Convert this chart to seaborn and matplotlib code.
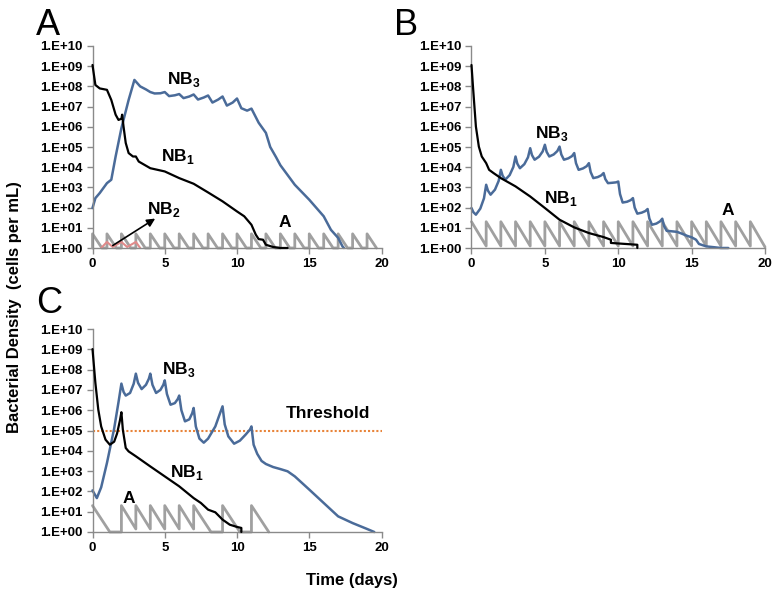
import numpy as np
import pandas as pd
import matplotlib
matplotlib.use("Agg")
import matplotlib.pyplot as plt
import seaborn as sns

# ---------------------------------------------
# DATA  (values are log10 of cells per mL)
# ---------------------------------------------
# Panel A
a_nb1_t = [0, 0.2, 0.5, 1.0, 1.3, 1.6, 1.8, 2.0, 2.05, 2.15, 2.3, 2.5, 2.8, 3.0, 3.2, 4, 5, 6, 7, 8, 9, 10,
           10.5, 11.0, 11.3, 11.5, 11.8, 12.0, 12.5, 13.0, 13.5]
a_nb1_y = [9.06, 8.07, 7.9, 7.83, 7.33, 6.6, 6.34, 6.4, 6.6, 6.0, 5.2, 4.7, 4.53, 4.53, 4.28, 3.95, 3.79, 3.46,
           3.18, 2.75, 2.31, 1.81, 1.57, 1.15, 0.66, 0.44, 0.41, 0.16, 0.05, 0.0, 0.0]
a_nb3_t = [0, 0.2, 0.5, 1.0, 1.3, 1.6, 2.0, 2.5, 2.9, 3.3, 3.7, 4.0, 4.3, 4.7, 5.0, 5.3, 5.7, 6.0, 6.3, 6.7,
           7.0, 7.3, 7.7, 8.0, 8.3, 8.7, 9.0, 9.3, 9.7, 10.0, 10.3, 10.7, 11.0, 11.5, 12.0, 12.3, 12.7, 13,
           14, 15, 16, 16.5, 17, 17.3, 17.4]
a_nb3_y = [1.98, 2.47, 2.72, 3.21, 3.38, 4.53, 5.93, 7.33, 8.32, 8.0, 7.85, 7.72, 7.65, 7.66, 7.72, 7.52, 7.56,
           7.62, 7.42, 7.5, 7.6, 7.35, 7.45, 7.55, 7.2, 7.35, 7.5, 7.05, 7.2, 7.4, 6.92, 6.8, 6.9, 6.2, 5.7,
           5.0, 4.5, 4.1, 3.13, 2.39, 1.57, 0.9, 0.5, 0.08, 0.0]
a_nb2_t = [0.6, 1.0, 1.4, 2.0, 2.4, 3.0, 3.3]
a_nb2_y = [0.0, 0.3, 0.05, 0.3, 0.05, 0.3, 0.0]
a_abx_t = [0, 0, 0.65, 1, 1, 1.65, 2, 2, 2.65, 3, 3, 3.65, 4, 4, 4.65, 5, 5, 5.65, 6, 6, 6.65,
           7, 7, 7.65, 8, 8, 8.65, 9, 9, 9.65, 10, 10, 10.65, 11, 11, 11.65, 12, 12, 12.65,
           13, 13, 13.65, 14, 14, 14.65, 15, 15, 15.65, 16, 16, 16.65, 17, 17, 17.65,
           18, 18, 18.65, 19, 19, 19.65]
a_abx_y = [0, 0.7, 0] * 20

# Panel B
b_nb1_t = [0, 0.1, 0.2, 0.3, 0.5, 0.7, 1.0, 1.2, 1.5, 2, 3, 4, 5, 6, 7, 8, 9, 9.5, 9.5, 10.5, 11.3, 11.3]
b_nb1_y = [9.06, 8.0, 7.0, 6.01, 5.02, 4.53, 4.2, 3.87, 3.71, 3.46, 3.05, 2.55, 1.98, 1.4, 1.02, 0.74,
           0.54, 0.41, 0.25, 0.2, 0.16, 0.0]
b_nb3_t = [0, 0.12, 0.3, 0.6, 0.85,
           1, 1.12, 1.3, 1.6, 1.85,
           2, 2.12, 2.3, 2.6, 2.85,
           3, 3.12, 3.3, 3.6, 3.85,
           4, 4.12, 4.3, 4.6, 4.85,
           5, 5.12, 5.3, 5.6, 5.85,
           6, 6.12, 6.3, 6.6, 6.85,
           7, 7.12, 7.3, 7.6, 7.85,
           8, 8.12, 8.3, 8.6, 8.85,
           9, 9.12, 9.3, 9.6, 9.85,
           10, 10.12, 10.3, 10.6, 10.85,
           11, 11.12, 11.3, 11.6, 11.85,
           12, 12.12, 12.3, 12.6, 12.85,
           13, 13.12, 13.3, 13.6, 14, 14.3, 14.7, 15, 15.3, 15.5, 16, 17, 17.5]
b_nb3_y = [1.98, 1.78, 1.65, 1.95, 2.46,
           3.13, 2.84, 2.64, 2.89, 3.32,
           3.87, 3.58, 3.38, 3.61, 4.01,
           4.53, 4.18, 3.95, 4.15, 4.49,
           4.94, 4.6, 4.37, 4.52, 4.78,
           5.11, 4.76, 4.53, 4.63, 4.8,
           5.02, 4.63, 4.37, 4.44, 4.55,
           4.7, 4.2, 3.87, 3.94, 4.05,
           4.2, 3.76, 3.46, 3.51, 3.6,
           3.71, 3.41, 3.21, 3.23, 3.25,
           3.29, 2.67, 2.25, 2.29, 2.37,
           2.47, 2.0, 1.7, 1.75, 1.83,
           1.93, 1.46, 1.15, 1.21, 1.32,
           1.45, 1.09, 0.85, 0.83, 0.8, 0.72, 0.6, 0.53, 0.41, 0.2, 0.08, 0.0, 0.0]
b_abx_t = [0, 1, 1, 2, 2, 3, 3, 4, 4, 5, 5, 6, 6, 7, 7, 8, 8, 9, 9, 10, 10, 11, 11, 12, 12, 13, 13,
           14, 14, 15, 15, 16, 16, 17, 17, 18, 18, 19, 19, 20]
b_abx_y = [1.3] + [0.1, 1.3] * 19 + [0.05]

# Panel C
c_nb1_t = [0, 0.2, 0.4, 0.6, 0.9, 1.2, 1.5, 1.7, 1.9, 2.0, 2.1, 2.3, 2.5, 3, 4, 5, 6, 7, 7.5, 8, 8.5,
           9, 9.5, 10, 10.3, 10.3]
c_nb1_y = [9.01, 7.34, 6.03, 5.2, 4.55, 4.3, 4.45, 4.85, 5.5, 5.9, 5.04, 4.14, 3.97, 3.73, 3.23, 2.74,
           2.25, 1.67, 1.43, 1.1, 0.97, 0.61, 0.36, 0.25, 0.2, 0.0]
c_nb3_t = [0, 0.3, 0.6, 1.0, 1.5, 1.8, 2.0, 2.15, 2.3, 2.6, 2.85, 3.0, 3.15, 3.4, 3.7, 3.9, 4.0, 4.15,
           4.4, 4.7, 4.9, 5.0, 5.15, 5.4, 5.7, 5.9, 6.0, 6.15, 6.4, 6.7, 6.9, 7.0, 7.15, 7.4, 7.7, 8.0,
           8.5, 8.8, 9.0, 9.15, 9.4, 9.8, 10.2, 10.6, 10.9, 11.0, 11.15, 11.4, 11.7, 12.0, 12.5, 13.0,
           13.5, 14, 15, 16, 17, 18, 19, 19.5]
c_nb3_y = [2.05, 1.67, 2.2, 3.4, 5.1, 6.4, 7.31, 6.9, 6.72, 6.85, 7.3, 7.8, 7.35, 7.04, 7.25, 7.55, 7.8,
           7.25, 6.85, 7.0, 7.25, 7.47, 6.8, 6.27, 6.35, 6.55, 6.72, 6.0, 5.45, 5.55, 5.85, 6.11, 5.2,
           4.6, 4.4, 4.6, 5.2, 5.8, 6.19, 5.3, 4.71, 4.35, 4.5, 4.8, 5.05, 5.2, 4.3, 3.85, 3.5, 3.35,
           3.2, 3.1, 2.99, 2.74, 2.09, 1.43, 0.77, 0.44, 0.15, 0.0]
c_abx_t = [0, 1.2, 2, 2, 3, 3, 4, 4, 5, 5, 6, 6, 7, 7, 8.2, 9, 9, 10.2, 11, 11, 12.2]
c_abx_y = [1.3, 0, 0, 1.3, 0.15, 1.3, 0.15, 1.3, 0.15, 1.3, 0.15, 1.3, 0.15, 1.3, 0, 0, 1.3, 0, 0, 1.3, 0]
threshold = 1e5

ytick_vals   = [10 ** k for k in range(11)]
ytick_labels = ["1.E+%02d" % k for k in range(11)]
xticks       = [0, 5, 10, 15, 20]

C_NB1 = "black"
C_NB3 = "#4a6b99"
C_ABX = "#a0a0a0"
C_NB2 = "#e08a8a"
C_THR = "#e8843a"

# ---------------------------------------------
# STYLE
# ---------------------------------------------
sns.set_style("ticks")
plt.rcParams["font.family"] = ["Liberation Sans", "DejaVu Sans"]
plt.rcParams["mathtext.fontset"] = "custom"
plt.rcParams["mathtext.rm"] = "Liberation Sans"
plt.rcParams["mathtext.bf"] = "Liberation Sans:bold"
plt.rcParams["text.color"] = "black"
plt.rcParams["xtick.labelcolor"] = "black"
plt.rcParams["ytick.labelcolor"] = "black"

fig = plt.figure(figsize=(7.8, 5.96), dpi=100)
ax_a = fig.add_axes([92.5 / 780, 1 - 248 / 596, 289 / 780, 202 / 596])
ax_b = fig.add_axes([471.5 / 780, 1 - 248 / 596, 293.5 / 780, 202 / 596])
ax_c = fig.add_axes([92.5 / 780, 1 - 532 / 596, 289 / 780, 203 / 596])


def draw(ax, t, y, color, lw, z=2):
    df = pd.DataFrame({"t": t, "v": 10 ** np.array(y, dtype=float)})
    sns.lineplot(data=df, x="t", y="v", estimator=None, sort=False, color=color,
                 linewidth=lw, ax=ax, zorder=z, clip_on=False)


def style(ax):
    ax.set_yscale("log")
    ax.set_ylim(1, 1e10)
    ax.set_xlim(0, 20)
    ax.set_yticks(ytick_vals)
    ax.set_yticklabels(ytick_labels)
    ax.minorticks_off()
    ax.set_xticks(xticks)
    ax.set_xticklabels([str(x) for x in xticks])
    for s in ["top", "right"]:
        ax.spines[s].set_visible(False)
    for s in ["left", "bottom"]:
        ax.spines[s].set_color("#8a8a8a")
        ax.spines[s].set_linewidth(1.0)
    ax.tick_params(axis="both", direction="out", length=4, width=1, color="#8a8a8a",
                   labelsize=9.5, labelcolor="black", pad=3)
    for lab in ax.get_xticklabels() + ax.get_yticklabels():
        lab.set_fontweight("bold")
    ax.set_xlabel("")
    ax.set_ylabel("")


def label(ax, x, ylog, txt, size=12.5):
    ax.text(x, 10 ** ylog, txt, fontsize=size, fontweight="bold", ha="center", va="center")


# Panel A
draw(ax_a, a_abx_t, a_abx_y, C_ABX, 2.0, 1)
draw(ax_a, a_nb2_t, a_nb2_y, C_NB2, 1.5, 1)
draw(ax_a, a_nb3_t, a_nb3_y, C_NB3, 1.8)
draw(ax_a, a_nb1_t, a_nb1_y, C_NB1, 1.6, 3)
style(ax_a)
label(ax_a, 6.3, 8.32, r"NB$_\mathbf{3}$")
label(ax_a, 5.9, 4.53, r"NB$_\mathbf{1}$")
label(ax_a, 4.9, 1.9, r"NB$_\mathbf{2}$")
label(ax_a, 13.3, 1.24, "A")
ax_a.annotate("", xy=(4.5, 10 ** 1.53), xytext=(1.24, 10 ** 0.05),
              arrowprops=dict(arrowstyle="-|>", color="black", lw=1.2, mutation_scale=12))

# Panel B
draw(ax_b, b_abx_t, b_abx_y, C_ABX, 2.0, 1)
draw(ax_b, b_nb3_t, b_nb3_y, C_NB3, 1.8)
draw(ax_b, b_nb1_t, b_nb1_y, C_NB1, 1.6, 3)
style(ax_b)
label(ax_b, 5.45, 5.68, r"NB$_\mathbf{3}$")
label(ax_b, 6.1, 2.47, r"NB$_\mathbf{1}$")
label(ax_b, 17.5, 1.86, "A")

# Panel C
draw(ax_c, c_abx_t, c_abx_y, C_ABX, 2.0, 1)
draw(ax_c, c_nb3_t, c_nb3_y, C_NB3, 1.8)
draw(ax_c, c_nb1_t, c_nb1_y, C_NB1, 1.6, 3)
ax_c.axhline(threshold, color=C_THR, linestyle=(0, (1, 1)), linewidth=1.5, zorder=1)
style(ax_c)
label(ax_c, 6.0, 8.0, r"NB$_\mathbf{3}$")
label(ax_c, 6.5, 2.94, r"NB$_\mathbf{1}$")
label(ax_c, 2.5, 1.67, "A")
label(ax_c, 16.3, 5.86, "Threshold")

# Panel letters and shared labels
for txt, x, y in [("A", 36, 35), ("B", 394, 35), ("C", 36, 313)]:
    fig.text(x / 780, 1 - y / 596, txt, fontsize=26, va="baseline", ha="left")

fig.text(15 / 780, 1 - 307 / 596, "Bacterial Density  (cells per mL)", rotation=90,
         fontsize=12, fontweight="bold", ha="center", va="center")
fig.text(352 / 780, 1 - 580 / 596, "Time (days)", fontsize=12, fontweight="bold",
         ha="center", va="center")

fig.savefig("out.png", dpi=100)
